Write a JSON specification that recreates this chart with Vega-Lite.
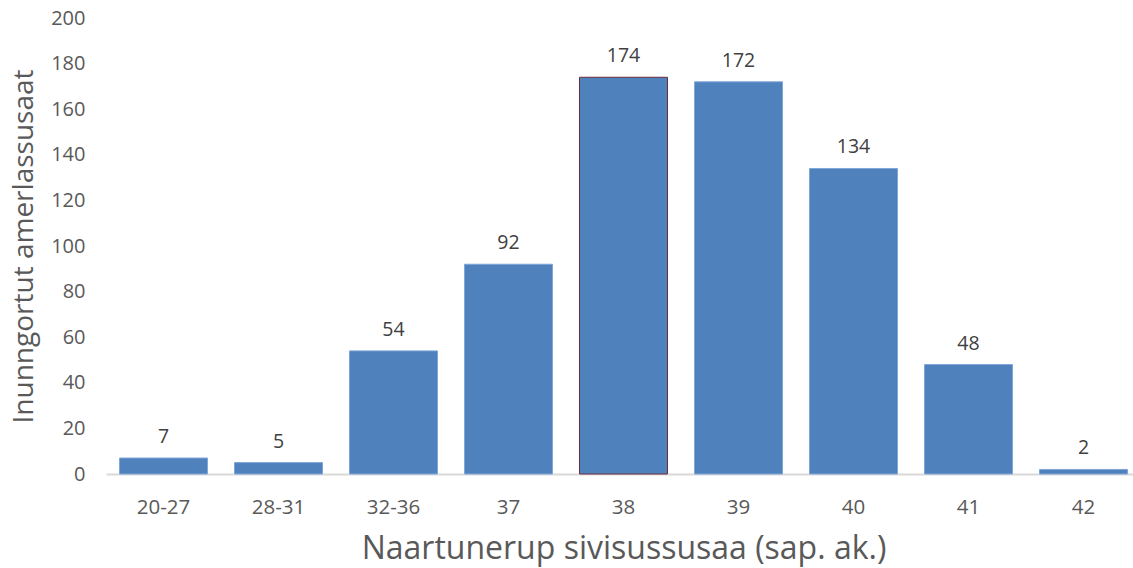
{
  "$schema": "https://vega.github.io/schema/vega-lite/v6.json",
  "width": 1035,
  "height": 456,
  "autosize": "none",
  "padding": {"left": 106, "top": 18, "right": 0, "bottom": 94},
  "background": "white",
  "config": {"view": {"stroke": null}, "font": "Open Sans"},
  "data": {"values": [
    {"age": "20-27", "count": 7},
    {"age": "28-31", "count": 5},
    {"age": "32-36", "count": 54},
    {"age": "37", "count": 92},
    {"age": "38", "count": 174},
    {"age": "39", "count": 172},
    {"age": "40", "count": 134},
    {"age": "41", "count": 48},
    {"age": "42", "count": 2}
  ]},
  "encoding": {
    "x": {"field": "age", "type": "nominal", "sort": null,
      "scale": {"paddingInner": 0.235, "paddingOuter": 0.1175},
      "axis": {"title": "Naartunerup sivisussusaa (sap. ak.)", "labelAngle": 0,
        "labelFontSize": 20.5, "labelColor": "#595959", "labelPadding": 23,
        "ticks": false, "domainColor": "#d9d9d9", "domainWidth": 2,
        "titleFontSize": 32, "titleFontWeight": "normal", "titleColor": "#595959", "titlePadding": 16}},
    "y": {"field": "count", "type": "quantitative",
      "scale": {"domain": [0, 200], "nice": false},
      "axis": {"title": "Inunngortut amerlassusaat", "values": [0,20,40,60,80,100,120,140,160,180,200],
        "grid": false, "domain": false, "ticks": false,
        "labelFontSize": 20, "labelColor": "#595959", "labelPadding": 21,
        "titleFontSize": 28, "titleFontWeight": "normal", "titleColor": "#595959", "titlePadding": 12}}
  },
  "layer": [
    {"mark": {"type": "bar", "color": "#4F81BD", "strokeWidth": 1},
     "encoding": {"stroke": {"condition": {"test": "datum.age === '38'", "value": "#6b2d3c"}, "value": "#7ea6d8"}}},
    {"mark": {"type": "text", "baseline": "bottom", "dy": -11, "fontSize": 19.5, "color": "#404040"},
     "encoding": {"text": {"field": "count", "type": "quantitative"}}}
  ]
}
